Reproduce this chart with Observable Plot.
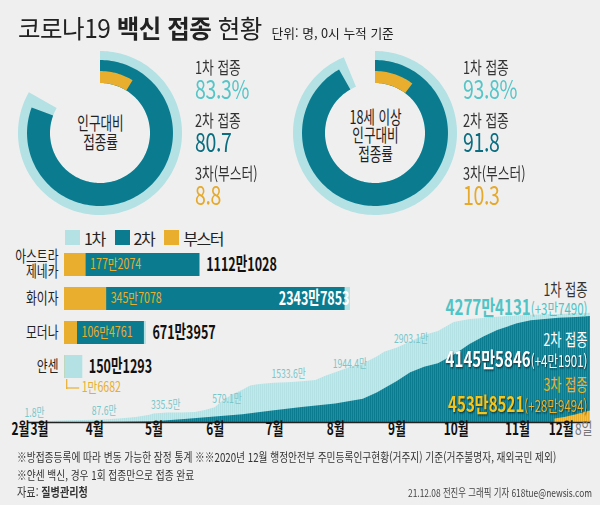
<!DOCTYPE html>
<html lang="ko">
<head>
<meta charset="utf-8">
<script src="https://cdn.jsdelivr.net/npm/d3@7"></script>
<script src="https://cdn.jsdelivr.net/npm/@observablehq/plot@0.6"></script>
<style>
  html,body{margin:0;padding:0;background:#fff;}
  #root{position:relative;width:600px;height:515px;overflow:hidden;background:#fff;font-family:"Noto Sans CJK KR","Noto Sans",sans-serif;color:#222;}
  #bg{position:absolute;left:0;top:0;width:600px;height:505px;background:#efefef;}
  .abs{position:absolute;}
  #title{left:18px;top:11px;white-space:nowrap;transform:scaleX(.98);transform-origin:0 0;line-height:32px;}
  #title .big{font-size:25px;letter-spacing:-0.5px;}
  #title .sub{font-size:13px;margin-left:10px;}
  .stats{top:58px;transform:scaleX(.75);transform-origin:0 0;white-space:nowrap;}
  .stats .lab{font-size:17px;line-height:18px;height:18px;color:#333;}
  .stats .val{font-size:26px;line-height:23px;height:35px;letter-spacing:-0.5px;}
  #foot{left:17px;top:448px;font-size:12px;line-height:17.5px;color:#333;transform:scaleX(.81);transform-origin:0 0;white-space:nowrap;}
  #credit{right:8px;top:483.5px;font-size:11px;line-height:17px;color:#444;transform:scaleX(.76);transform-origin:100% 0;white-space:nowrap;}
  #legend{left:65px;top:221px;}
  .lg-swatch{margin-right:10px !important;}
  .lg-swatch > svg{margin-right:4px !important;}
  svg{overflow:visible;}
</style>
</head>
<body>
<div id="root">
  <div id="bg"></div>
  <div id="title" class="abs"><span class="big">코로나19 <b>백신 접종</b> 현황</span><span class="sub">단위: 명, 0시 누적 기준</span></div>
  <div id="donut0" class="abs" style="left:15px;top:48px"></div>
  <div id="donut1" class="abs" style="left:290px;top:48px"></div>
  <div id="stats0" class="abs stats" style="left:195px"></div>
  <div id="stats1" class="abs stats" style="left:463px"></div>
  <div id="area" class="abs" style="left:0;top:275px"></div>
  <div id="bars" class="abs" style="left:0;top:248px"></div>
  <div id="legend" class="abs"></div>
  <div id="foot" class="abs">
    <div>※방접종등록에 따라 변동 가능한 잠정 통계 ※※2020년 12월 행정안전부 주민등록인구현황(거주지) 기준(거주불명자, 재외국민 제외)</div>
    <div>※얀센 백신, 경우 1회 접종만으로 접종 완료</div>
    <div style="font-size:12.5px">자료: <b>질병관리청</b></div>
  </div>
  <div id="credit" class="abs">21.12.08 전진우 그래픽 기자 618tue@newsis.com</div>
</div>
<script>
// ---------- data ----------
const donutTitles = ["인구대비\n접종률", "18세 이상\n인구대비\n접종률"];
const rate1st = [83.3, 93.8];
const rate2nd = [80.7, 91.8];
const rate3rd = [8.8, 10.3];
const statLabels = ["1차 접종", "2차 접종", "3차(부스터)"];

const doseNames = ["1차", "2차", "부스터"];
const vaccines = ["아스트라\n제네카", "화이자", "모더나", "얀센"];
const vaccine1st = [11121028, 23437853, 6713957, 1501293];
const vaccine2nd = [11100000, 23000000, 6550000, 0];
const vaccine3rd = [1772074, 3457078, 1064761, 16682];

const dates1 = ["2021-02-26","2021-03-05","2021-03-12","2021-03-19","2021-03-26","2021-04-01","2021-04-08","2021-04-15","2021-04-22","2021-04-29","2021-05-01","2021-05-08","2021-05-15","2021-05-22","2021-05-27","2021-06-01","2021-06-05","2021-06-10","2021-06-15","2021-06-19","2021-06-25","2021-07-01","2021-07-08","2021-07-15","2021-07-22","2021-07-27","2021-08-01","2021-08-08","2021-08-15","2021-08-22","2021-08-26","2021-09-01","2021-09-08","2021-09-15","2021-09-22","2021-09-30","2021-10-08","2021-10-15","2021-10-22","2021-10-31","2021-11-08","2021-11-15","2021-11-22","2021-11-30","2021-12-08"];
const cum1st = [18489,330000,520000,640000,770000,876000,1080000,1470000,1930000,2880000,3355000,3680000,3720000,3880000,4660000,5791000,8400000,10900000,12600000,14300000,15000000,15336000,15500000,15900000,16400000,18100000,19444000,21400000,22900000,25600000,27600000,29031000,31500000,34000000,35600000,39100000,40300000,40700000,41200000,41700000,41980000,42120000,42260000,42560000,42774131];

const dates2 = ["2021-02-26","2021-03-19","2021-04-01","2021-04-15","2021-05-01","2021-05-15","2021-06-01","2021-06-15","2021-07-01","2021-07-15","2021-08-01","2021-08-15","2021-08-22","2021-09-01","2021-09-08","2021-09-15","2021-09-22","2021-10-01","2021-10-08","2021-10-15","2021-10-22","2021-11-01","2021-11-08","2021-11-15","2021-11-22","2021-12-01","2021-12-08"];
const cum2nd = [0,0,16000,60000,250000,1100000,2150000,3000000,4600000,5900000,7200000,9100000,11500000,15900000,19500000,21600000,23000000,26800000,30500000,33400000,36000000,38600000,39800000,40300000,40800000,41100000,41455846];

const dates3 = ["2021-11-20","2021-11-25","2021-12-01","2021-12-05","2021-12-08"];
const cum3rd = [1400000,2000000,3000000,3900000,4538521];

const milestoneDates = ["2021-02-26","2021-04-01","2021-05-01","2021-06-01","2021-07-01","2021-08-01","2021-09-01"];
const milestoneLabels = ["1.8만","87.6만","335.5만","579.1만","1533.6만","1944.4만","2903.1만"];

const tickDates = ["2021-02-26","2021-03-01","2021-04-01","2021-05-01","2021-06-01","2021-07-01","2021-08-01","2021-09-01","2021-10-01","2021-11-01","2021-12-01","2021-12-08"];
const tickLabels = ["2월","3월","4월","5월","6월","7월","8월","9월","10월","11월","12월","8일"];

const totalTitles = ["1차 접종","2차 접종","3차 접종"];
const totals = [42774131, 41455846, 4538521];
const deltas = [37490, 41901, 289494];

// ---------- styles ----------
const FONT = '"Noto Sans CJK KR","Noto Sans",sans-serif';
const C1 = "#b3e1e4", C2 = "#0b7c90", C3 = "#e9ae2d";
const fmtMan = v => v >= 1e4 ? Math.floor(v / 1e4) + "만" + String(v % 1e4).padStart(4, "0") : String(v);

// ---------- donuts ----------
const R = 85 / 82;
const radii = {inner: 0.61, first: 1, second: 0.89, third: 0.756};
function ring(pct, r0, r1) {
  const n = Math.ceil(pct * 2);
  return d3.range(n + 1).map(i => {
    const a = (pct / 100) * 2 * Math.PI * i / n;
    return {xi: r0 * Math.sin(a), yi: r0 * Math.cos(a), xo: r1 * Math.sin(a), yo: r1 * Math.cos(a)};
  });
}
const svgs = [];
[0, 1].forEach(i => {
  const p = Plot.plot({
    width: 170, height: 170, margin: 0,
    style: {background: "transparent", fontFamily: FONT},
    x: {domain: [-R, R], axis: null},
    y: {domain: [-R, R], axis: null},
    marks: [
      Plot.area(ring(rate1st[i], radii.inner, radii.first), {x1: "xi", y1: "yi", x2: "xo", y2: "yo", fill: C1}),
      Plot.area(ring(rate2nd[i], radii.inner, radii.second), {x1: "xi", y1: "yi", x2: "xo", y2: "yo", fill: C2}),
      Plot.area(ring(rate3rd[i], radii.inner, radii.third), {x1: "xi", y1: "yi", x2: "xo", y2: "yo", fill: C3}),
      Plot.text([donutTitles[i]], {frameAnchor: "middle", text: d => d, fontSize: 18, lineHeight: 1.02, fill: "#222", dy: i ? 3 : 0})
    ]
  });
  document.getElementById("donut" + i).appendChild(p);
  svgs.push([p, 0.7, 0.7]);
  const vals = [[rate1st[i].toFixed(1) + "%", "#55c5c8"], [rate2nd[i].toFixed(1), "#0b6e80"], [rate3rd[i].toFixed(1), "#e6a92a"]];
  const st = d3.select("#stats" + i);
  statLabels.forEach((l, j) => {
    st.append("div").attr("class", "lab").text(l);
    st.append("div").attr("class", "val").style("color", vals[j][1]).text(vals[j][0]);
  });
});

// ---------- legend ----------
const lg = Plot.legend({
  color: {type: "ordinal", domain: doseNames, range: [C1, C2, C3]},
  legend: "swatches", swatchSize: 15, className: "lg",
  style: {fontSize: "16px", fontFamily: FONT, letterSpacing: "-1.5px", color: "#222", marginLeft: "0px"}
});
document.getElementById("legend").appendChild(lg);

// ---------- bars ----------
const barData = vaccines.map((v, i) => ({vaccine: v, d1: vaccine1st[i], d2: vaccine2nd[i], d3: vaccine3rd[i]}));
const inside = d => d.d1 > 20e6;
const single = barData.filter(d => d.d2 === 0);
const bars = Plot.plot({
  width: 370, height: 150, marginLeft: 64, marginRight: 1, marginTop: 0, marginBottom: 14,
  style: {background: "transparent", fontFamily: FONT},
  x: {domain: [0, 25e6], axis: null},
  y: {domain: vaccines, paddingInner: 0.31, paddingOuter: 0.15, axis: null},
  marks: [
    Plot.barX(barData, {x: "d1", y: "vaccine", fill: C1}),
    Plot.barX(barData, {x: "d2", y: "vaccine", fill: C2}),
    Plot.barX(barData, {x: "d3", y: "vaccine", fill: C3}),
    Plot.text(barData, {y: "vaccine", text: "vaccine", frameAnchor: "left", textAnchor: "end", dx: -6, fontSize: 15.5, lineHeight: 0.95, fill: "#222"}),
    Plot.text(barData.filter(d => !inside(d)), {x: "d1", y: "vaccine", text: d => fmtMan(d.d1), textAnchor: "start", dx: 6, fontSize: 19, fontWeight: "bold", fill: "#111"}),
    Plot.text(barData.filter(inside), {x: "d1", y: "vaccine", text: d => fmtMan(d.d1), textAnchor: "end", dx: -1, fontSize: 19, fontWeight: "bold", fill: "#fff"}),
    Plot.text(barData.filter(d => d.d2 > 0), {x: "d3", y: "vaccine", text: d => fmtMan(d.d3), textAnchor: "start", dx: 4, fontSize: 14, fill: C3}),
    Plot.tickX(single, {x: "d3", y: "vaccine", dx: 2, dy: 11, insetTop: 13, stroke: C3, strokeWidth: 1.2}),
    Plot.ruleY(single, {y: "vaccine", x1: "d3", x2: "d3", dx: 2, dy: 21, insetRight: -13, stroke: C3, strokeWidth: 1.2}),
    Plot.text(single, {x: "d3", y: "vaccine", text: d => fmtMan(d.d3), textAnchor: "start", dx: 17, dy: 21, fontSize: 14, fill: C3})
  ]
});
document.getElementById("bars").appendChild(bars);
svgs.push([bars, 0.76, 0.66]);

// ---------- cumulative area ----------
const s1 = dates1.map((d, i) => ({date: new Date(d), value: cum1st[i]}));
const s2 = dates2.map((d, i) => ({date: new Date(d), value: cum2nd[i]}));
const s3 = dates3.map((d, i) => ({date: new Date(d), value: cum3rd[i]}));
const milestones = milestoneDates.map((d, i) => ({date: new Date(d), value: cum1st[dates1.indexOf(d)], label: milestoneLabels[i]}));
const n = tickDates.length;
const ticks = tickDates.map((d, i) => ({date: new Date(d), label: tickLabels[i], anchor: i === 0 ? "first" : i === n - 2 ? "end" : i === 1 ? "start" : i === n - 1 ? "last" : "middle"}));
const annoOffsets = [[8, 25], [58, 77], [103, 122]];
const annoColors = [["#333", "#4fc4c6"], ["#fff", "#fff"], ["#eeb22c", "#f6c51c"]];
const annos = totals.map((t, i) => ({title: totalTitles[i], text: fmtMan(t) + "(+" + fmtMan(deltas[i]) + ")", i}));
const tickStyle = {x: "date", text: "label", frameAnchor: "bottom", dy: 12, fontSize: 16.5, fontWeight: "bold", fill: "#111"};

const area = Plot.plot({
  width: 600, height: 175, marginLeft: 27, marginRight: 10, marginTop: 0, marginBottom: 28,
  style: {background: "transparent", fontFamily: FONT},
  x: {type: "utc", domain: [new Date(dates1[0]), new Date(dates1[dates1.length - 1])], axis: null},
  y: {domain: [0, 57.5e6], axis: null},
  marks: [
    Plot.areaY(s1, {x: "date", y: "value", fill: "url(#stCyan)"}),
    Plot.areaY(s2, {x: "date", y: "value", fill: "url(#stTeal)"}),
    Plot.areaY(s3, {x: "date", y: "value", fill: "url(#stGold)"}),
    Plot.ruleY([0], {stroke: "#222", strokeWidth: 1.5}),
    Plot.text(milestones, {x: "date", y: "value", text: "label", textAnchor: "start", dx: -3, dy: -9, fill: "#79c6c9", fontSize: 12}),
    Plot.text(ticks.filter(d => d.anchor === "middle"), tickStyle),
    Plot.text(ticks.filter(d => d.anchor === "first"), {...tickStyle, textAnchor: "end", dx: 2}),
    Plot.text(ticks.filter(d => d.anchor === "end"), {...tickStyle, textAnchor: "end", dx: -3}),
    Plot.text(ticks.filter(d => d.anchor === "start"), {...tickStyle, textAnchor: "start", dx: -3}),
    Plot.text(ticks.filter(d => d.anchor === "last"), {...tickStyle, textAnchor: "end", dx: 2, fontWeight: "normal", fill: "#777"}),
    ...annos.map(a => Plot.text([a], {text: "title", frameAnchor: "top-right", textAnchor: "end", dx: -3, dy: annoOffsets[a.i][0], fontSize: 17, fill: annoColors[a.i][0]})),
    ...annos.map(a => Plot.text([a], {text: "text", frameAnchor: "top-right", textAnchor: "end", dx: -3, dy: annoOffsets[a.i][1], fontSize: 21, fill: annoColors[a.i][1]}))
  ]
});
// stripe patterns imitating the daily bars
(function () {
  const defs = d3.select(area).insert("defs", ":first-child");
  [["stCyan", C1, "#d4eef0"], ["stTeal", C2, "#3f9bab"], ["stGold", C3, "#f4d27e"]].forEach(([id, c, g]) => {
    const p = defs.append("pattern").attr("id", id).attr("patternUnits", "userSpaceOnUse").attr("width", 2).attr("height", 8);
    p.append("rect").attr("width", 2).attr("height", 8).attr("fill", g);
    p.append("rect").attr("width", 1.5).attr("height", 8).attr("fill", c);
  });
})();
document.getElementById("area").appendChild(area);
svgs.push([area, 0.72, 0.72]);

// split "number(+delta)" into bold and regular parts
d3.select(area).selectAll("text").each(function () {
  const s = this.textContent;
  const k = s.indexOf("(+");
  if (k > 0 && !this.querySelector("tspan")) {
    this.textContent = "";
    const t = d3.select(this);
    t.append("tspan").attr("font-weight", "bold").attr("font-size", 21).text(s.slice(0, k));
    const p2 = t.append("tspan").attr("font-weight", "normal").attr("font-size", 16).text(s.slice(k));
    if (s.startsWith(fmtMan(totals[2]))) p2.attr("fill", "#eeb22c");
    if (!s.startsWith(fmtMan(totals[0]))) this.style.filter = "drop-shadow(1px 1px 1px rgba(0,0,0,0.65))";
  }
});

// condense text horizontally to imitate the narrow newspaper typeface
function condense(svg, k, kb) {
  svg.querySelectorAll("text").forEach(t => {
    const g = t.closest("[font-weight]");
    const bold = (g && g.getAttribute("font-weight") === "bold") || t.querySelector('tspan[font-weight="bold"]');
    const f = bold ? kb : k;
    const tr = t.getAttribute("transform");
    if (tr) t.setAttribute("transform", tr + ` scale(${f},1)`);
    else {
      const x = +(t.getAttribute("x") || 0);
      t.setAttribute("transform", `translate(${x},0) scale(${f},1) translate(${-x},0)`);
    }
  });
}
svgs.forEach(([s, k, kb]) => condense(s, k, kb));
</script>
</body>
</html>
